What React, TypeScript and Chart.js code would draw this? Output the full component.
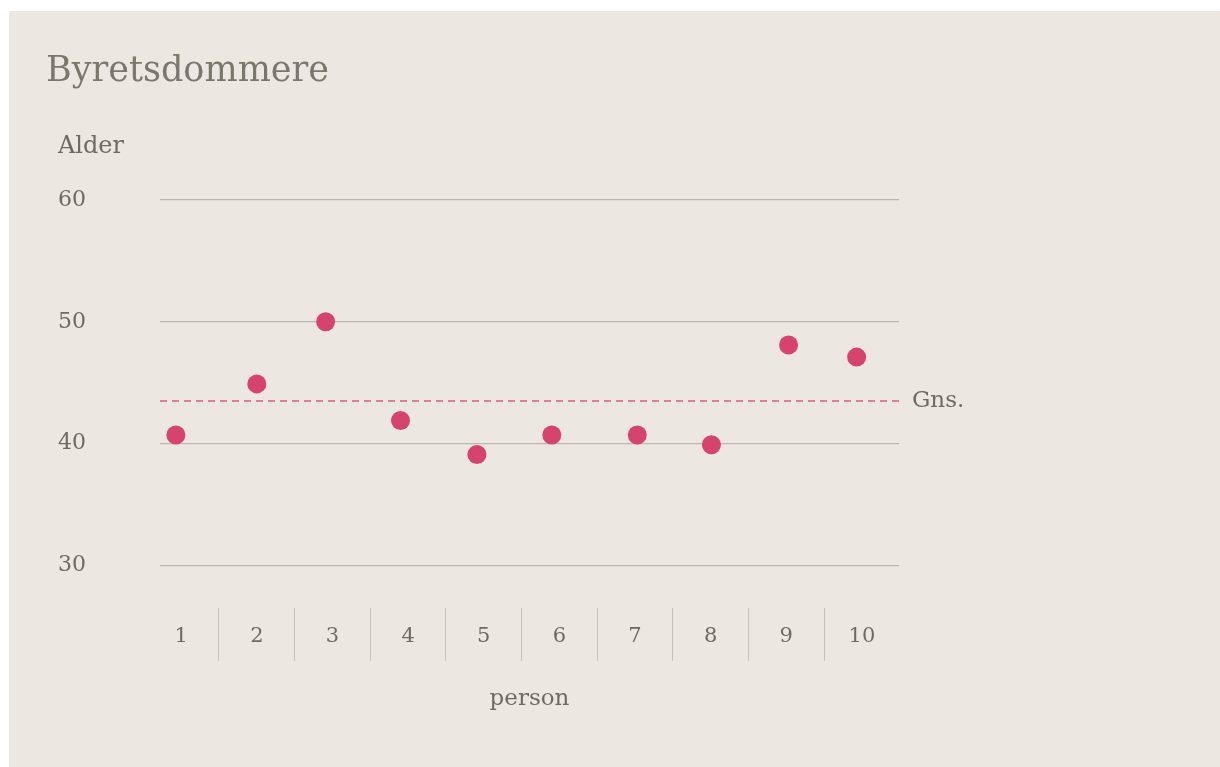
import React, { useEffect, useRef } from "react";
import { Chart, registerables } from "chart.js";

Chart.register(...registerables);

const TITLE = "Byretsdommere";
const Y_LABEL = "Alder";
const X_LABEL = "person";
const AVG_LABEL = "Gns.";

// jittered horizontal position of each person, and their age
const personX = [0.93, 2.0, 2.91, 3.9, 4.91, 5.9, 7.03, 8.01, 9.03, 9.93];
const ages = [40.7, 44.9, 50.0, 41.9, 39.1, 40.7, 40.7, 39.9, 48.1, 47.1];
const xTicks = [1, 2, 3, 4, 5, 6, 7, 8, 9, 10];
const yTicks = [30, 40, 50, 60];
const average = 43.5;
const xRange = [0.72, 10.49];
const yRange = [26.5, 60];

const FONT = '"DejaVu Serif", Georgia, serif';
const BG = "#ece7e1";
const TITLE_COLOR = "#7a776b";
const TEXT_COLOR = "#6e6a65";
const DOT = "#d6436d";
const AVG_COLOR = "#d65d82";
const GRID = "#bdb7b0";
const SEP = "#c6c0b9";

const extraLabels = {
  id: "extraLabels",
  afterDraw(chart: any) {
    const { ctx, chartArea, scales } = chart;
    ctx.save();
    ctx.fillStyle = TEXT_COLOR;
    ctx.textAlign = "left";
    ctx.font = `24px ${FONT}`;
    ctx.textBaseline = "alphabetic";
    ctx.fillText(Y_LABEL, scales.y.left + 12, chartArea.top - 47);
    ctx.font = `23px ${FONT}`;
    ctx.textBaseline = "middle";
    ctx.fillText(AVG_LABEL, chartArea.right + 13, scales.y.getPixelForValue(average));
    ctx.restore();
  },
};

export default function App() {
  const ref = useRef<HTMLCanvasElement | null>(null);
  useEffect(() => {
    if (!ref.current) return;
    const chart = new Chart(ref.current, {
      type: "scatter",
      data: {
        datasets: [
          {
            label: "Alder",
            data: personX.map((x, i) => ({ x, y: ages[i] })),
            backgroundColor: DOT,
            borderColor: DOT,
            pointRadius: 9.5,
            pointBorderWidth: 0,
          },
          {
            label: AVG_LABEL,
            data: [
              { x: xRange[0], y: average },
              { x: xRange[1], y: average },
            ],
            showLine: true,
            borderColor: AVG_COLOR,
            borderWidth: 1.5,
            borderDash: [7, 5],
            pointRadius: 0,
          } as any,
        ],
      },
      options: {
        animation: false,
        responsive: true,
        maintainAspectRatio: false,
        layout: { padding: { left: 37, top: 40, right: 321, bottom: 54 } },
        plugins: {
          legend: { display: false },
          tooltip: { enabled: false },
          title: {
            display: true,
            text: TITLE,
            align: "start",
            color: TITLE_COLOR,
            font: { family: FONT, size: 35, weight: "normal" },
            padding: { top: 0, bottom: 107 },
          },
        },
        scales: {
          x: {
            type: "linear",
            min: xRange[0],
            max: xRange[1],
            afterBuildTicks: (s: any) => {
              s.ticks = xTicks.map((v) => ({ value: v }));
            },
            afterFit: (s: any) => {
              s.height = 105;
            },
            border: { display: false },
            grid: {
              display: true,
              drawOnChartArea: false,
              drawTicks: true,
              tickLength: 53,
              offset: true,
              color: SEP,
              lineWidth: 1,
            },
            ticks: {
              color: TEXT_COLOR,
              font: { family: FONT, size: 21 },
              padding: -37,
              maxRotation: 0,
              autoSkip: false,
            },
            title: {
              display: true,
              text: X_LABEL,
              color: TEXT_COLOR,
              font: { family: FONT, size: 23 },
              padding: { top: 0, bottom: 0 },
            },
          },
          y: {
            type: "linear",
            min: yRange[0],
            max: yRange[1],
            afterBuildTicks: (s: any) => {
              s.ticks = yTicks.map((v) => ({ value: v }));
            },
            afterFit: (s: any) => {
              s.width = 114;
            },
            border: { display: false },
            grid: { color: GRID, lineWidth: 1.2, drawTicks: false },
            ticks: {
              color: TEXT_COLOR,
              font: { family: FONT, size: 22 },
              padding: 74,
            },
          },
        },
      },
      plugins: [extraLabels],
    } as any);
    return () => chart.destroy();
  }, []);

  return (
    <div
      style={{
        position: "fixed",
        left: 9,
        top: 11,
        width: 1211,
        height: 756,
        background: BG,
      }}
    >
      <canvas ref={ref} />
    </div>
  );
}
